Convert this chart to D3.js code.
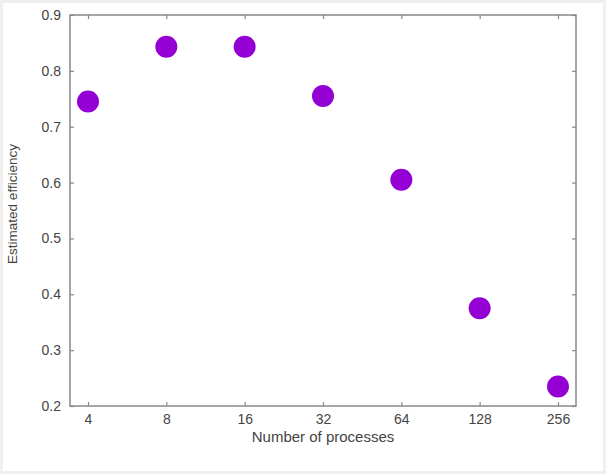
<!DOCTYPE html>
<html><head><meta charset="utf-8">
<script src="https://cdn.jsdelivr.net/npm/d3@7"></script>
<style>
html,body{margin:0;padding:0;background:#f0f0f0;}
svg{display:block;}
</style></head><body>
<svg id="c" width="606" height="474"></svg>
<script>
const processes = [4, 8, 16, 32, 64, 128, 256];
const efficiency = [0.745, 0.843, 0.843, 0.755, 0.605, 0.375, 0.235];
const yTicks = [0.2, 0.3, 0.4, 0.5, 0.6, 0.7, 0.8, 0.9];
const xLabel = "Number of processes";
const yLabel = "Estimated efficiency";

const svg = d3.select("#c");
svg.append("rect").attr("x", 3).attr("y", 3).attr("width", 600).attr("height", 468).attr("fill", "#fff");

const L = 70, R = 576, T = 15, B = 406;
const x = d3.scaleLog().base(2).domain([Math.pow(2, 1.77), Math.pow(2, 8.23)]).range([L, R]);
const y = d3.scaleLinear().domain([0.2, 0.9]).range([B, T]);

const axisColor = "#888";
const font = "Liberation Sans, Arial, sans-serif";

const g = svg.append("g");
g.append("rect").attr("x", L).attr("y", T).attr("width", R - L).attr("height", B - T)
  .attr("fill", "none").attr("stroke", axisColor).attr("stroke-width", 1.5);

const xb = g.append("g").attr("transform", `translate(0,${B})`)
  .call(d3.axisBottom(x).tickValues(processes).tickFormat(d3.format("d")).tickSizeInner(-4).tickSizeOuter(0).tickPadding(8));
const xt = g.append("g").attr("transform", `translate(0,${T})`)
  .call(d3.axisTop(x).tickValues(processes).tickFormat("").tickSizeInner(-4).tickSizeOuter(0));
const yl = g.append("g").attr("transform", `translate(${L},0)`)
  .call(d3.axisLeft(y).tickValues(yTicks).tickFormat(d3.format(".1f")).tickSizeInner(-4).tickSizeOuter(0).tickPadding(9));
const yr = g.append("g").attr("transform", `translate(${R},0)`)
  .call(d3.axisRight(y).tickValues(yTicks).tickFormat("").tickSizeInner(-4).tickSizeOuter(0));

[xb, xt, yl, yr].forEach(a => {
  a.select(".domain").remove();
  a.selectAll(".tick line").attr("stroke", axisColor).attr("stroke-width", 1.2);
  a.selectAll(".tick text").attr("fill", "#444").attr("font-family", font).attr("font-size", 14);
});

g.selectAll("circle.pt").data(processes).enter().append("circle")
  .attr("class", "pt")
  .attr("cx", d => x(d))
  .attr("cy", (d, i) => y(efficiency[i]))
  .attr("r", 11)
  .attr("fill", "#9400d3");

svg.append("text").attr("x", 323).attr("y", 442).attr("text-anchor", "middle")
  .attr("font-family", font).attr("font-size", 15).attr("fill", "#444").text(xLabel);
svg.append("text").attr("transform", `translate(17,204) rotate(-90)`).attr("text-anchor", "middle")
  .attr("font-family", font).attr("font-size", 13.5).attr("fill", "#444").text(yLabel);
</script>
</body></html>
